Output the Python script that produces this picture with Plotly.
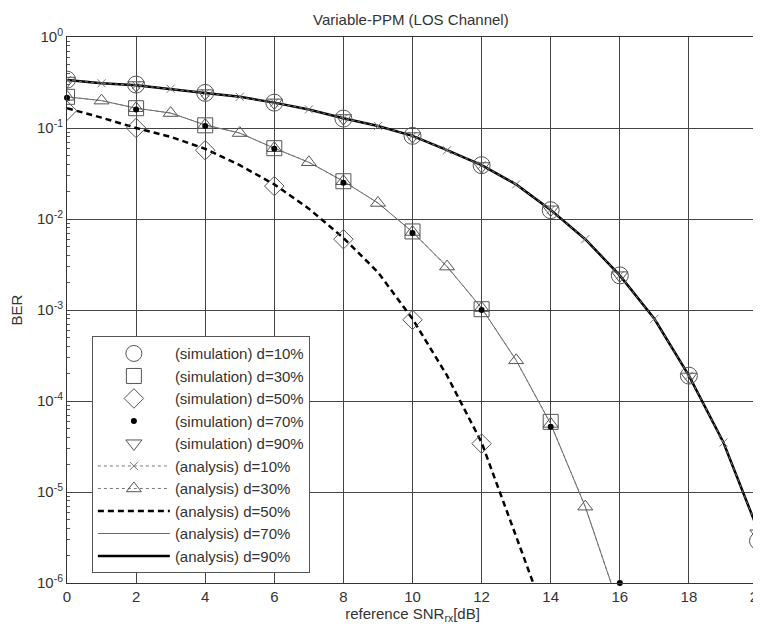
import plotly.graph_objects as go

# ---------------- data ----------------
snr_all = list(range(0, 21))
snr_even = list(range(0, 21, 2))

# analysis curves (d=10% and d=90% coincide; d=30% and d=70% coincide)
ana_d10 = [0.336, 0.31, 0.295, 0.27, 0.243, 0.22, 0.19, 0.16, 0.128, 0.105, 0.082,
           0.057, 0.039, 0.024, 0.0126, 0.006, 0.0024, 8.0e-4, 1.9e-4, 3.5e-5, 3.8e-6]
ana_d90 = [0.336, 0.31, 0.295, 0.27, 0.243, 0.22, 0.19, 0.16, 0.128, 0.105, 0.082,
           0.057, 0.039, 0.024, 0.0126, 0.006, 0.0024, 8.0e-4, 1.9e-4, 3.5e-5, 3.8e-6]
snr_ana30 = list(range(0, 17))
ana_d30 = [0.22, 0.20, 0.165, 0.146, 0.108, 0.088, 0.06, 0.042, 0.026, 0.015, 0.0072,
           0.003, 0.00105, 2.8e-4, 5.6e-5, 6.9e-6, 5.2e-7]
ana_d70 = [0.22, 0.20, 0.165, 0.146, 0.108, 0.088, 0.06, 0.042, 0.026, 0.015, 0.0072,
           0.003, 0.00105, 2.8e-4, 5.6e-5, 6.9e-6, 5.2e-7]
snr_ana50 = list(range(0, 15))
ana_d50 = [0.165, 0.13, 0.10, 0.08, 0.059, 0.039, 0.024, 0.013, 0.0062, 0.0026, 8.0e-4,
           1.9e-4, 3.5e-5, 3.3e-6, 3.0e-7]

# simulation points
sim_d10 = [0.34, 0.30, 0.243, 0.19, 0.127, 0.082, 0.039, 0.0125, 0.0024, 1.9e-4, 2.9e-6]
snr_sim30 = [0, 2, 4, 6, 8, 10, 12, 14]
sim_d30 = [0.22, 0.165, 0.107, 0.06, 0.026, 0.0073, 0.00102, 5.9e-5]
snr_sim50 = [0, 2, 4, 6, 8, 10, 12]
sim_d50 = [0.155, 0.10, 0.057, 0.023, 0.006, 7.8e-4, 3.4e-5]
snr_sim70 = [0, 2, 4, 6, 8, 10, 12, 14, 16]
sim_d70 = [0.215, 0.16, 0.105, 0.059, 0.025, 0.007, 0.001, 5.2e-5, 1.0e-6]
sim_d90 = [0.33, 0.295, 0.24, 0.19, 0.128, 0.081, 0.038, 0.0127, 0.0024, 1.85e-4, 3.5e-6]

y_tickvals = [1e-6, 1e-5, 1e-4, 1e-3, 1e-2, 1e-1, 1]
y_ticktext = ["10<sup>-6</sup>", "10<sup>-5</sup>", "10<sup>-4</sup>", "10<sup>-3</sup>",
              "10<sup>-2</sup>", "10<sup>-1</sup>", "10<sup>0</sup>"]
y_minorvals = [k * 10.0 ** e for e in range(-6, 0) for k in range(2, 10)]

MK = "#555555"

fig = go.Figure()

# analysis lines drawn first (under markers)
fig.add_trace(go.Scatter(x=snr_ana50, y=ana_d50, mode="lines", name="(analysis) d=50%",
                         line=dict(color="black", width=2.5, dash="6px,4px"), legendrank=8))
fig.add_trace(go.Scatter(x=snr_ana30, y=ana_d70, mode="lines", name="(analysis) d=70%",
                         line=dict(color="#666666", width=1), legendrank=9))
fig.add_trace(go.Scatter(x=snr_all, y=ana_d90, mode="lines", name="(analysis) d=90%",
                         line=dict(color="black", width=2.5), legendrank=10))
fig.add_trace(go.Scatter(x=snr_all, y=ana_d10, mode="lines+markers", name="(analysis) d=10%",
                         line=dict(color="#777777", width=1, dash="dot"),
                         marker=dict(symbol="x-thin-open", size=8, line=dict(color=MK, width=1)),
                         legendrank=6))
fig.add_trace(go.Scatter(x=snr_ana30, y=ana_d30, mode="lines+markers", name="(analysis) d=30%",
                         line=dict(color="#777777", width=1, dash="dot"),
                         marker=dict(symbol="triangle-up-open", size=13, color=MK,
                                     line=dict(color=MK, width=1)),
                         legendrank=7))

# simulation markers
fig.add_trace(go.Scatter(x=snr_even, y=sim_d10, mode="markers", name="(simulation) d=10%",
                         marker=dict(symbol="circle-open", size=17, color=MK,
                                     line=dict(color=MK, width=1)), legendrank=1))
fig.add_trace(go.Scatter(x=snr_sim30, y=sim_d30, mode="markers", name="(simulation) d=30%",
                         marker=dict(symbol="square-open", size=15, color=MK,
                                     line=dict(color=MK, width=1)), legendrank=2))
fig.add_trace(go.Scatter(x=snr_sim50, y=sim_d50, mode="markers", name="(simulation) d=50%",
                         marker=dict(symbol="diamond-open", size=15, color=MK,
                                     line=dict(color=MK, width=1)), legendrank=3))
fig.add_trace(go.Scatter(x=snr_sim70, y=sim_d70, mode="markers", name="(simulation) d=70%",
                         marker=dict(symbol="circle", size=6, color="black"),
                         cliponaxis=False, legendrank=4))
fig.add_trace(go.Scatter(x=snr_even, y=sim_d90, mode="markers", name="(simulation) d=90%",
                         marker=dict(symbol="triangle-down-open", size=14, color=MK,
                                     line=dict(color=MK, width=1)), legendrank=5))

# the page body has an 8px margin, so the figure is 8px smaller than the window
fig.update_layout(
    width=753, height=618,
    margin=dict(l=59, r=3, t=29, b=43, autoexpand=False),
    paper_bgcolor="white", plot_bgcolor="white",
    font=dict(family="Liberation Sans, Arial, sans-serif", size=15, color="#333333"),
    title=dict(text="Variable-PPM (LOS Channel)", x=0.535, xanchor="center",
               y=0.981, yanchor="middle", font=dict(size=15, color="#333333")),
    showlegend=True,
    legend=dict(x=0.036, y=0.452, xanchor="left", yanchor="top",
                bgcolor="white", bordercolor="#555555", borderwidth=1,
                font=dict(size=15, color="#333333"), itemwidth=72,
                traceorder="normal"),
)

fig.update_xaxes(range=[0, 20], dtick=2, tick0=0, showgrid=True, gridcolor="#444444",
                 gridwidth=1, showline=True, linecolor="#333333", linewidth=1,
                 mirror=True, ticks="", zeroline=False, ticklabeloverflow="allow",
                 automargin=False,
                 title=dict(text="reference SNR<sub>rx</sub>[dB]", standoff=2,
                            font=dict(size=15, color="#333333")),
                 tickfont=dict(size=15, color="#333333"))
fig.update_yaxes(type="log", range=[-6, 0], tickmode="array", tickvals=y_tickvals,
                 ticktext=y_ticktext, automargin=False,
                 showgrid=True, gridcolor="#444444", gridwidth=1,
                 showline=True, linecolor="#333333", linewidth=1, mirror="ticks",
                 ticks="", zeroline=False,
                 minor=dict(tickmode="array", tickvals=y_minorvals, ticks="inside",
                            ticklen=3, tickcolor="#555555", tickwidth=1, showgrid=False),
                 title=dict(text="BER", standoff=12, font=dict(size=15, color="#333333")),
                 tickfont=dict(size=15, color="#333333"))

fig.write_html("out.html")
